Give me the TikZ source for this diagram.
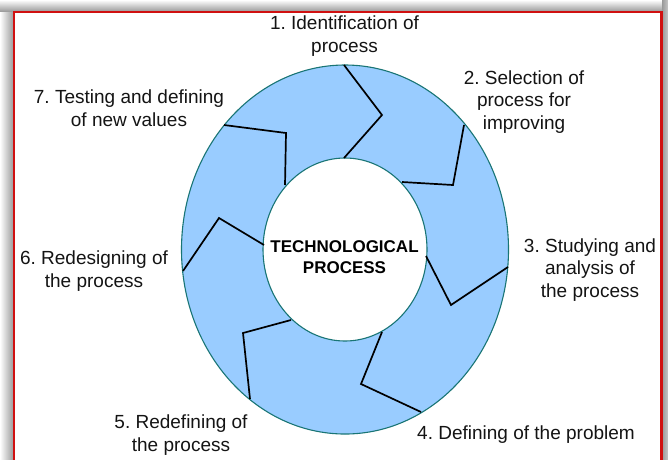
\documentclass[tikz,border=0pt]{standalone}
\usepackage{fontspec}
\setmainfont{Liberation Sans}
\frenchspacing
\begin{document}
\begin{tikzpicture}[x=1pt,y=-1pt,
  label text/.style={align=center, inner sep=0pt,
    font=\fontsize{19}{22.8}\selectfont, text=black!92},
  ring edge/.style={draw=teal!80!black!90, line width=1.1pt},
  divider/.style={draw=black, line width=1.7pt, line join=miter},
]
\definecolor{ringblue}{HTML}{99CCFF}
\definecolor{framered}{HTML}{D01010}
\useasboundingbox (0,0) rectangle (668,459);

% soft shadow behind the frame
\shade[left color=white, right color=black!38] (0,0) rectangle (13,459);
\shade[top color=white, bottom color=black!38] (0,0) rectangle (668,11);
\shade[left color=black!40, right color=black!22] (662,0) rectangle (668,459);
\fill[white] (13,11) rectangle (662,459);

% red frame, open at the bottom
\draw[framered, line width=2.6pt] (14,470) -- (14,12) -- (661.5,12) -- (661.5,470);

% the ring
\fill[ringblue, even odd rule]
  (345,249.5) ellipse [x radius=163.5, y radius=184.5]
  (345,249.5) ellipse [x radius=82, y radius=91.5];
\draw[ring edge] (345,249.5) ellipse [x radius=163.5, y radius=184.5];
\draw[ring edge] (345,249.5) ellipse [x radius=82, y radius=91.5];

% chevron dividers between the seven stages
\coordinate (o1) at (344,65);   \coordinate (m1) at (382,115); \coordinate (i1) at (344,158);
\coordinate (o2) at (464,125);  \coordinate (m2) at (453,185); \coordinate (i2) at (402,182);
\coordinate (o3) at (508,267);  \coordinate (m3) at (451,305); \coordinate (i3) at (426,256);
\coordinate (o4) at (421,412);  \coordinate (m4) at (361,384); \coordinate (i4) at (382,332);
\coordinate (o5) at (250,399);  \coordinate (m5) at (243,333); \coordinate (i5) at (291,320);
\coordinate (o6) at (183,271);  \coordinate (m6) at (219,218); \coordinate (i6) at (264,245);
\coordinate (o7) at (224,125);  \coordinate (m7) at (286,133); \coordinate (i7) at (285,185);
\foreach \k in {1,...,7}
  \draw[divider] (o\k) -- (m\k) -- (i\k);

% centre title
\node[align=center, inner sep=0pt,
      font=\fontsize{17}{20.5}\selectfont\bfseries] (title) at (344.5,257)
  {TECHNOLOGICAL\\PROCESS};

% stage labels
\node[label text] (s1) at (344.5,36) {1. Identification of\\process};
\node[label text] (s2) at (524,102) {2. Selection of\\process for\\improving};
\node[label text] (s3) at (590,270) {3. Studying and\\analysis of\\the process};
\node[label text] (s4) at (526,435) {4. Defining of the problem};
\node[label text] (s5) at (181,435) {5. Redefining of\\the process};
\node[label text] (s6) at (94,271) {6. Redesigning of\\the process};
\node[label text] (s7) at (129,108) {7. Testing and defining\\of new values};
\end{tikzpicture}
\end{document}
